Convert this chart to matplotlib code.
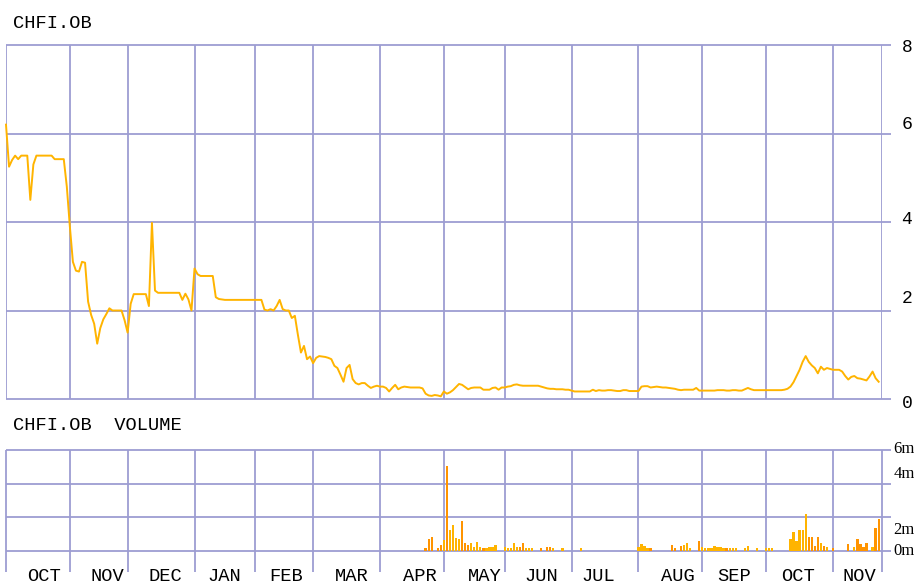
import numpy as np
import matplotlib
matplotlib.use("Agg")
import matplotlib.pyplot as plt
from matplotlib.transforms import blended_transform_factory as btf

# ---------------- data ----------------
months = ["OCT", "NOV", "DEC", "JAN", "FEB", "MAR", "APR", "MAY",
          "JUN", "JUL", "AUG", "SEP", "OCT", "NOV"]
# trading days in each month shown
month_days = [21, 19, 22, 20, 19, 22, 21, 20, 22, 22, 21, 21, 22, 16]
# where each month label sits (trading-day index)
month_label_pos = [12.5, 33.2, 52.3, 71.7, 92.1, 113.8, 136.2, 157.6,
                   176.0, 194.7, 221.0, 239.5, 260.5, 280.6]

# daily closing price
price = [
    6.20, 5.25, 5.40, 5.50, 5.42, 5.50, 5.50, 5.50, 4.50, 5.30,
    5.50, 5.50, 5.50, 5.50, 5.50, 5.50, 5.42, 5.42, 5.42, 5.42,
    4.80, 3.90, 3.10, 2.90, 2.88, 3.10, 3.08, 2.20, 1.90, 1.70,
    1.25, 1.60, 1.80, 1.92, 2.05, 2.00, 2.00, 2.00, 2.00, 1.78,
    1.50, 2.15, 2.37, 2.37, 2.37, 2.37, 2.37, 2.10, 3.98, 2.45,
    2.40, 2.40, 2.40, 2.40, 2.40, 2.40, 2.40, 2.40, 2.24, 2.38,
    2.25, 2.00, 2.95, 2.82, 2.78, 2.78, 2.78, 2.78, 2.78, 2.30,
    2.26, 2.25, 2.24, 2.24, 2.24, 2.24, 2.24, 2.24, 2.24, 2.24,
    2.24, 2.24, 2.24, 2.24, 2.24, 2.02, 2.00, 2.03, 2.00, 2.10,
    2.24, 2.03, 2.00, 2.00, 1.83, 1.88, 1.45, 1.05, 1.20, 0.90,
    0.96, 0.81, 0.93, 0.97, 0.96, 0.95, 0.93, 0.90, 0.75, 0.70,
    0.55, 0.39, 0.70, 0.77, 0.45, 0.36, 0.33, 0.36, 0.36, 0.30,
    0.25, 0.28, 0.30, 0.28, 0.28, 0.25, 0.17, 0.25, 0.32, 0.22,
    0.26, 0.28, 0.27, 0.26, 0.26, 0.26, 0.26, 0.24, 0.12, 0.08,
    0.07, 0.09, 0.08, 0.06, 0.17, 0.12, 0.15, 0.20, 0.27, 0.34,
    0.32, 0.27, 0.22, 0.25, 0.26, 0.26, 0.26, 0.21, 0.21, 0.21,
    0.25, 0.26, 0.21, 0.26, 0.26, 0.28, 0.29, 0.32, 0.33, 0.31,
    0.30, 0.30, 0.30, 0.30, 0.30, 0.30, 0.28, 0.26, 0.24, 0.23,
    0.23, 0.22, 0.22, 0.22, 0.21, 0.21, 0.19, 0.17, 0.17, 0.17,
    0.17, 0.17, 0.17, 0.21, 0.18, 0.20, 0.19, 0.19, 0.20, 0.20,
    0.19, 0.18, 0.18, 0.20, 0.20, 0.18, 0.18, 0.18, 0.18, 0.28,
    0.29, 0.29, 0.26, 0.27, 0.28, 0.27, 0.26, 0.26, 0.25, 0.24,
    0.23, 0.21, 0.20, 0.21, 0.21, 0.21, 0.21, 0.25, 0.19, 0.19,
    0.19, 0.19, 0.19, 0.19, 0.20, 0.20, 0.20, 0.19, 0.19, 0.20,
    0.20, 0.19, 0.19, 0.22, 0.25, 0.22, 0.20, 0.20, 0.20, 0.20,
    0.20, 0.20, 0.20, 0.20, 0.20, 0.20, 0.21, 0.23, 0.28, 0.38,
    0.52, 0.66, 0.84, 0.97, 0.84, 0.76, 0.70, 0.58, 0.73, 0.66,
    0.70, 0.68, 0.66, 0.66, 0.66, 0.62, 0.52, 0.44, 0.50, 0.52,
    0.47, 0.46, 0.44, 0.42, 0.51, 0.62, 0.47, 0.39,
]

# volume (millions of shares) on the trading days that had volume
vol_day = [138, 139, 140, 142, 143, 144, 145, 146, 147, 148, 149, 150, 151,
           152, 153, 154, 155, 156, 157, 158, 159, 160, 161, 164, 165, 166,
           167, 168, 169, 170, 171, 172, 173, 176, 178, 179, 180, 183, 189,
           208, 209, 210, 211, 212, 219, 220, 222, 223, 224, 225, 228, 229,
           230, 231, 232, 233, 234, 235, 236, 237, 238, 239, 240, 243, 244,
           247, 250, 251, 252, 258, 259, 260, 261, 262, 263, 264, 265, 266,
           267, 268, 269, 270, 272, 277, 279, 280, 281, 282, 283, 285, 286,
           287]
vol_m = [0.15, 0.70, 0.82, 0.15, 0.36, 0.66, 5.05, 1.26, 1.56, 0.80, 0.70,
         1.76, 0.45, 0.35, 0.45, 0.25, 0.55, 0.25, 0.15, 0.15, 0.25, 0.25,
         0.35, 0.25, 0.15, 0.15, 0.45, 0.25, 0.25, 0.45, 0.15, 0.15, 0.15,
         0.15, 0.25, 0.25, 0.15, 0.15, 0.15,
         0.25, 0.40, 0.30, 0.15, 0.15, 0.35, 0.15, 0.30, 0.35, 0.50, 0.15,
         0.60, 0.25, 0.20, 0.15, 0.20, 0.30, 0.25, 0.25, 0.15, 0.15, 0.15,
         0.15, 0.15, 0.15, 0.30, 0.15, 0.15, 0.15, 0.15,
         0.70, 1.10, 0.60, 1.26, 1.26, 2.20, 0.82, 0.82, 0.30, 0.82, 0.50,
         0.30, 0.25, 0.15, 0.40, 0.25, 0.70, 0.40, 0.25, 0.50, 0.25, 1.35,
         1.90]

price_ticks = [0, 2, 4, 6, 8]
price_tick_labels = ["0", "2", "4", "6", "8"]
vol_ticks = [0, 2, 4, 6]
vol_tick_labels = ["0m", "2m", "4m", "6m"]

# ---------------- style ----------------
GRID = "#9d9dd2"
LINE = "#ffb400"
BAR_UP = "#ffb400"
BAR_DN = "#ff9400"
MONO = ["Liberation Mono", "DejaVu Sans Mono"]
SERIF = ["Liberation Serif", "DejaVu Serif"]

W, H = 914, 586
fig = plt.figure(figsize=(W / 100, H / 100), dpi=100)
fig.patch.set_facecolor("white")


def rect(l, t, r, b):
    return [l / W, 1 - b / H, (r - l) / W, (b - t) / H]


ax = fig.add_axes(rect(6, 45, 881.7, 399))
axv = fig.add_axes(rect(6, 450, 881.7, 551))

bounds = np.concatenate([[0], np.cumsum(month_days)])
ndays = bounds[-1]

for a in (ax, axv):
    a.set_xlim(0, ndays)
    a.set_axis_off()

ax.set_ylim(0, 8)
axv.set_ylim(0, 6)

glw = 1.3
# price panel grid
tr = btf(ax.transAxes, ax.transData)
for v in price_ticks:
    ax.plot([0, 1.0106], [v, v], transform=tr, color=GRID, lw=glw,
            clip_on=False, zorder=1, solid_capstyle="butt")
for b in bounds:
    ax.axvline(b, color=GRID, lw=glw, zorder=1)

# volume panel grid
trv = btf(axv.transAxes, axv.transData)
for v in vol_ticks:
    axv.plot([0, 1.0106], [v, v], transform=trv, color=GRID, lw=glw,
             clip_on=False, zorder=1, solid_capstyle="butt")
trx = btf(axv.transData, axv.transAxes)
for b in bounds:
    axv.plot([b, b], [-0.21, 1.0], transform=trx, color=GRID, lw=glw,
             clip_on=False, zorder=1, solid_capstyle="butt")

# price line
x = np.arange(len(price))
ax.plot(x, price, color=LINE, lw=1.4, zorder=3, clip_on=False)

# volume bars
cols = []
for d in vol_day:
    if d > 0 and price[d] < price[d - 1]:
        cols.append(BAR_DN)
    else:
        cols.append(BAR_UP)
axv.bar(vol_day, vol_m, width=0.75, color=cols, zorder=3, linewidth=0)

# right-side labels (price)
price_label_y = [-0.1, 2.28, 4.05, 6.21, 7.95]
trr = btf(ax.transAxes, ax.transData)
for lab, yv in zip(price_tick_labels, price_label_y):
    ax.text(1.0225, yv, lab, transform=trr, ha="left", va="center",
            fontsize=13, family=MONO, color="black", clip_on=False)

vol_label_y = [0.0, 1.26, 4.55, 6.05]
for lab, yv in zip(vol_tick_labels, vol_label_y):
    axv.text(1.0135, yv, lab, transform=trv, ha="left", va="center",
             fontsize=12, family=SERIF, color="black", clip_on=False)

# month labels
trm = btf(axv.transData, axv.transAxes)
for lab, p in zip(months, month_label_pos):
    axv.text(p, -0.255, lab, transform=trm, ha="center", va="center",
             fontsize=13.5, family=MONO, color="black", clip_on=False)

# titles
fig.text(13 / W, 1 - 23 / H, "CHFI.OB", ha="left", va="center",
         fontsize=13.5, family=MONO, color="black")
fig.text(13 / W, 1 - 426 / H, "CHFI.OB  VOLUME", ha="left", va="center",
         fontsize=13.5, family=MONO, color="black")

fig.savefig("out.png", dpi=100, facecolor="white")
